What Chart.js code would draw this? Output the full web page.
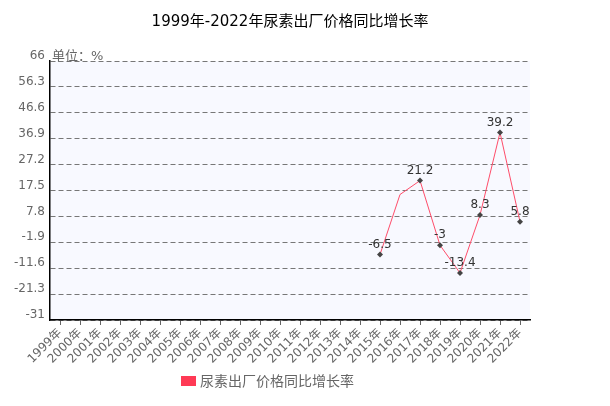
<!DOCTYPE html>
<html>
<head>
<meta charset="utf-8">
<script src="https://cdn.jsdelivr.net/npm/chart.js@4/dist/chart.umd.min.js"></script>
<style>
  html, body { margin: 0; padding: 0; background: #fff; }
</style>
</head>
<body>
<canvas id="myChart" width="610" height="406"></canvas>
<script>
const years = [
    '1999年', '2000年', '2001年', '2002年', '2003年', '2004年',
    '2005年', '2006年', '2007年', '2008年', '2009年', '2010年',
    '2011年', '2012年', '2013年', '2014年', '2015年', '2016年',
    '2017年', '2018年', '2019年', '2020年', '2021年', '2022年',
];

// 同比增长率 (%), 2016 has no marker/label in the original
const growth = [
    null, null, null, null, null, null, null, null,
    null, null, null, null, null, null, null, null,
    -6.5, 16.0, 21.2, -3, -13.4, 8.3, 39.2, 5.8,
];
const hideMarker = ['2016年'];

const yTicks = [66, 56.3, 46.6, 36.9, 27.2, 17.5, 7.8, -1.9, -11.6, -21.3, -31];

const seriesName = '尿素出厂价格同比增长率';
const lineColor = '#ff4d6a';
const fontFam = "'DejaVu Sans', 'Noto Sans CJK SC', sans-serif";

const plotBg = {
    id: 'plotBg',
    beforeDraw(chart) {
        const { ctx, chartArea: a } = chart;
        ctx.save();
        ctx.fillStyle = '#f8f9ff';
        ctx.fillRect(a.left, a.top, a.right - a.left, a.bottom - a.top);
        ctx.restore();
    },
};

const extras = {
    id: 'extras',
    afterDatasetsDraw(chart) {
        const { ctx, chartArea: a } = chart;
        const meta = chart.getDatasetMeta(0);
        ctx.save();
        // value labels
        ctx.font = '12px ' + fontFam;
        ctx.fillStyle = '#333';
        ctx.textAlign = 'center';
        ctx.textBaseline = 'bottom';
        meta.data.forEach((pt, i) => {
            const v = growth[i];
            if (v === null || hideMarker.includes(years[i])) return;
            ctx.fillText(String(v), pt.x, pt.y - 4);
        });
        // unit
        ctx.font = '13px ' + fontFam;
        ctx.fillStyle = '#666';
        ctx.textAlign = 'left';
        ctx.textBaseline = 'bottom';
        ctx.fillText('单位：%', a.left + 2, a.top + 2);
        // legend
        const lx = 181, ly = 381;
        ctx.fillStyle = '#ff3a55';
        ctx.fillRect(lx, ly - 5, 15, 10);
        ctx.font = '14px ' + fontFam;
        ctx.fillStyle = '#666';
        ctx.textBaseline = 'middle';
        ctx.fillText(seriesName, lx + 19, ly + 1);
        ctx.restore();
    },
};

const ctx = document.querySelector('#myChart').getContext('2d');

const myChart = new Chart(ctx, {
    type: 'line',
    data: {
        labels: years,
        datasets: [{
            label: seriesName,
            data: growth,
            borderColor: lineColor,
            backgroundColor: lineColor,
            borderWidth: 1,
            tension: 0,
            pointStyle: 'rectRot',
            pointRadius: years.map(y => hideMarker.includes(y) ? 0 : 3),
            pointBackgroundColor: '#444',
            pointBorderColor: '#444',
            pointBorderWidth: 0,
        }],
    },
    options: {
        responsive: false,
        animation: false,
        layout: { padding: { left: 0, right: 80, top: 0, bottom: 36 } },
        plugins: {
            legend: { display: false },
            tooltip: { enabled: false },
            title: {
                display: true,
                fullSize: false,
                text: '1999年-2022年尿素出厂价格同比增长率',
                color: '#000',
                font: { size: 15, family: fontFam, weight: 'normal' },
                padding: { top: 13, bottom: 30 },
            },
        },
        scales: {
            x: {
                offset: true,
                grid: { drawOnChartArea: false, drawTicks: true, tickLength: 5, color: '#666' },
                border: { display: true, color: '#000', width: 1.5 },
                ticks: {
                    color: '#666',
                    font: { size: 12, family: fontFam },
                    maxRotation: 45,
                    minRotation: 45,
                    autoSkip: false,
                    padding: 1,
                },
                afterFit(scale) { scale.height = 50; },
            },
            y: {
                min: -31,
                max: 66,
                afterBuildTicks(scale) { scale.ticks = yTicks.map(v => ({ value: v })); },
                grid: { color: '#777', drawTicks: false },
                border: { display: true, color: '#000', width: 1.5, dash: [5, 3] },
                ticks: {
                    color: '#666',
                    font: { size: 12, family: fontFam },
                    padding: 5,
                    labelOffset: -5,
                    callback: v => String(v),
                },
                afterFit(scale) { scale.width = 50; },
            },
        },
    },
    plugins: [plotBg, extras],
});
</script>
</body>
</html>
